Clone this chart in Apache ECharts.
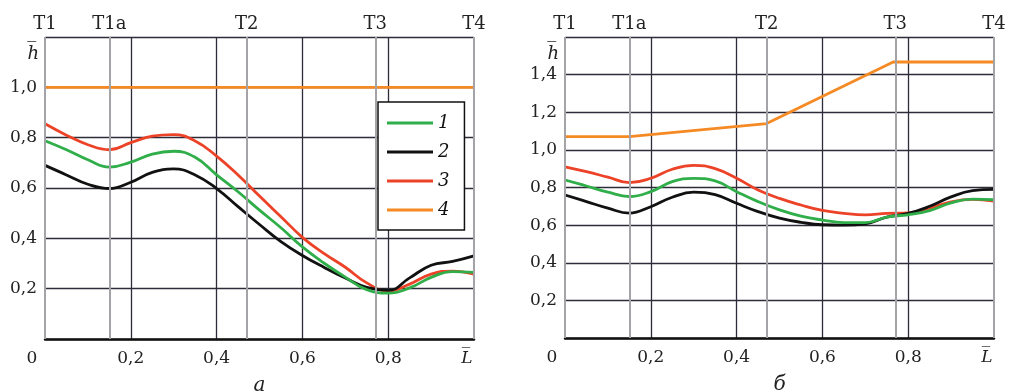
<!DOCTYPE html>
<html><head><meta charset="utf-8">
<script src="https://cdn.jsdelivr.net/npm/echarts@6/dist/echarts.min.js"></script>
<style>html,body{margin:0;padding:0;background:#fff}#c{width:1010px;height:392px}</style>
</head><body><div id="c"></div>
<script>
// ---- data ----
const xSteps = [0,0.05,0.1,0.15,0.2,0.25,0.3,0.35,0.4,0.45,0.5,0.55,0.6,0.65,0.7,0.75,0.8,0.85,0.9,0.95,1.0];
// panel а
const a_s1 = [0.788,0.752,0.712,0.683,0.703,0.735,0.746,0.722,0.652,0.585,0.512,0.442,0.366,0.302,0.246,0.196,0.182,0.203,0.245,0.268,0.265];
const a_s2 = [0.69,0.652,0.615,0.598,0.623,0.662,0.676,0.652,0.598,0.526,0.455,0.387,0.332,0.285,0.242,0.205,0.193,0.243,0.293,0.308,0.33];
const a_s3 = [0.855,0.81,0.772,0.752,0.78,0.806,0.812,0.787,0.727,0.652,0.568,0.486,0.404,0.34,0.285,0.223,0.19,0.218,0.258,0.27,0.258];
const a_s4x = [0,1];
const a_s4 = [1.0,1.0];
// panel б
const b_s1 = [0.84,0.808,0.775,0.752,0.778,0.831,0.849,0.835,0.778,0.725,0.681,0.648,0.627,0.613,0.613,0.643,0.655,0.677,0.718,0.738,0.735];
const b_s2 = [0.76,0.725,0.69,0.664,0.698,0.748,0.775,0.762,0.716,0.672,0.637,0.615,0.602,0.6,0.607,0.643,0.662,0.7,0.75,0.783,0.79];
const b_s3 = [0.91,0.884,0.855,0.826,0.849,0.897,0.918,0.9,0.849,0.787,0.742,0.707,0.678,0.663,0.655,0.662,0.665,0.69,0.724,0.737,0.728];
const b_s4x = [0,0.15,0.47,0.765,1.0];
const b_s4 = [1.07,1.07,1.14,1.467,1.467];
// section marks
const marksX = [0,0.146,0.472,0.765,1.0];
const marksName = ['T1','T1a','T2','T3','T4'];
const seriesNames = ['1','2','3','4'];
const colors = {'1':'#2fae4a','2':'#111111','3':'#ec4328','4':'#f58a25'};
const captions = ['а','б'];
const yMax = [1.2,1.6];

const FONT = 'DejaVu Serif';
const pair = (xs, ys) => xs.map((x,i)=>[x, ys[i]]);
const fmt = v => v.toFixed(1).replace('.', ',');

function xAxis(gi){
  return {
    type:'value', gridIndex:gi, min:0, max:1, interval:0.2,
    name: captions[gi], nameLocation:'middle', nameGap:37,
    nameTextStyle:{fontFamily:FONT, fontSize:20, fontStyle:'italic', color:'#222'},
    axisLine:{show:true, onZero:false, lineStyle:{color:'#111', width:2.5}},
    axisTick:{show:false},
    splitLine:{show:true, showMinLine:false, showMaxLine:false, lineStyle:{color:'#2c2c3a', width:1.3}},
    axisLabel:{margin:11, color:'#222', fontFamily:FONT, fontSize:17,
      formatter: v => v===0 ? '{z|0}' : (v===1 ? '{l|L\u0305}' : fmt(v)),
      rich:{
        z:{fontFamily:FONT, fontSize:17, color:'#222', padding:[0,26,0,0]},
        l:{fontFamily:FONT, fontSize:17, color:'#222', fontStyle:'italic', padding:[0,14,0,0]}
      }
    }
  };
}
function yAxis(gi){
  return {
    type:'value', gridIndex:gi, min:0, max:yMax[gi], interval:0.2,
    name:'h\u0305', nameLocation:'end', nameGap:-26,
    nameTextStyle:{fontFamily:FONT, fontSize:18, fontStyle:'italic', color:'#222', align:'right', padding:[0,6,0,0]},
    axisLine:{show:false}, axisTick:{show:false},
    splitLine:{show:true, lineStyle:{color:'#2c2c3a', width:1.3}},
    axisLabel:{margin:8, color:'#222', fontFamily:FONT, fontSize:17,
      formatter: v => (v<=0.0001 || v>=yMax[gi]-0.0001) ? '' : fmt(v)}
  };
}
function marks(){
  return {
    silent:true, symbol:'none', animation:false,
    lineStyle:{color:'#a4a4a8', width:2, type:'solid'},
    label:{show:true, position:'end', distance:4, formatter:'{b}', color:'#222', fontFamily:FONT, fontSize:18},
    data: marksX.map((x,i)=>({xAxis:x, name:marksName[i]}))
  };
}
function line(name, gi, data, smooth, extra){
  return Object.assign({
    name, type:'line', xAxisIndex:gi, yAxisIndex:gi, data, smooth:smooth?0.45:false,
    symbol:'none', color:colors[name], lineStyle:{width:2.8, color:colors[name]}, animation:false
  }, extra||{});
}

const chart = echarts.init(document.getElementById('c'), null, {renderer:'canvas'});
chart.setOption({
  backgroundColor:'#ffffff',
  animation:false,
  grid:[
    {left:45, right:536, top:37, bottom:53, outerBoundsMode:'none', containLabel:false},
    {left:565, right:16, top:37, bottom:54, outerBoundsMode:'none', containLabel:false}
  ],
  xAxis:[xAxis(0), xAxis(1)],
  yAxis:[yAxis(0), yAxis(1)],
  legend:{
    data:seriesNames, orient:'vertical', left:378, top:102,
    backgroundColor:'#fff', borderColor:'#111', borderWidth:1.5,
    padding:[12,15,11,9], itemGap:11, itemWidth:46, itemHeight:3, itemTextGap:19,
    icon:'rect', selectedMode:false,
    textStyle:{fontFamily:FONT, fontSize:18, fontStyle:'italic', color:'#111'}
  },
  series:[
    line('4',0,pair(a_s4x,a_s4),false,{markLine:marks()}),
    line('3',0,pair(xSteps,a_s3),true),
    line('2',0,pair(xSteps,a_s2),true),
    line('1',0,pair(xSteps,a_s1),true),
    line('4',1,pair(b_s4x,b_s4),false,{markLine:marks()}),
    line('3',1,pair(xSteps,b_s3),true),
    line('2',1,pair(xSteps,b_s2),true),
    line('1',1,pair(xSteps,b_s1),true)
  ]
});
</script>
</body></html>
